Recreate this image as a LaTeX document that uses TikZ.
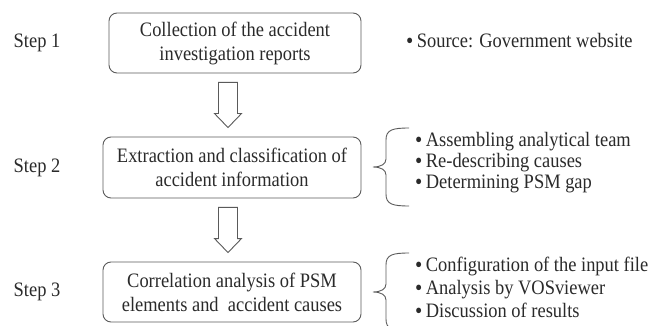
\documentclass[tikz,border=0pt]{standalone}
\usepackage{fontspec}
\setmainfont[FakeStretch=0.9]{Liberation Serif}
\usetikzlibrary{calc}
\definecolor{lineg}{HTML}{5A5A5A}
\definecolor{textg}{HTML}{2A2A2A}
\tikzset{
  stepbox/.style={draw=lineg, line width=0.9pt, rounded corners=8pt, align=center,
    inner sep=0pt, text=textg, font=\fontsize{20.5}{24}\selectfont},
  steplabel/.style={text=textg, font=\fontsize{20.5}{24}\selectfont, inner sep=0pt},
  item/.style={text=textg, font=\fontsize{20.5}{24}\selectfont, inner sep=0pt,
    anchor=west, text height=13pt, text depth=4pt},
  blockarrow/.style={draw=lineg, line width=0.9pt, fill=white, line join=miter},
  bracepath/.style={draw=lineg, line width=0.9pt}
}
\newcommand{\bul}{\raisebox{-1pt}{\smash{\fontsize{23}{23}\selectfont\textbullet}}\,}
\begin{document}
\begin{tikzpicture}[x=1pt,y=-1pt]
\useasboundingbox (0,0) rectangle (651,326);
\clip (0,0) rectangle (651,326);
% boxes
\node[stepbox, minimum width=252pt, minimum height=60pt] (b1) at (235,43)
  {Collection of the accident\\investigation reports};
\node[stepbox, minimum width=258pt, minimum height=61pt] (b2) at (232,167.5)
  {Extraction and classification of\\accident information};
\node[stepbox, minimum width=258pt, minimum height=60pt] (b3) at (232,292)
  {Correlation analysis of PSM\\elements and\ \ accident causes};
% step labels
\node[steplabel] (s1) at (37,43) {Step 1};
\node[steplabel] (s2) at (37,168) {Step 2};
\node[steplabel] (s3) at (37,292) {Step 3};
% block arrows
\foreach \from/\to in {b1/b2, b2/b3}{
  \draw[blockarrow] let \p1=(\from.south), \p2=(\to.north) in
    ({228pt-9.5pt},{\y1-9pt}) -- ({228pt+9.5pt},{\y1-9pt}) --
    ({228pt+9.5pt},{\y2+23pt}) -- ({228pt+13.5pt},{\y2+23pt}) --
    ({228pt},{\y2+9pt}) -- ({228pt-13.5pt},{\y2+23pt}) --
    ({228pt-9.5pt},{\y2+23pt}) -- cycle;
}
% step 1 item
\node[item] (i1) at (406,43) {\bul Source: Government website};
% step 2 brace and items
\coordinate (br2t) at (409,128);
\coordinate (br2b) at (409,206);
\coordinate (br2c) at (373,167);
\draw[bracepath] (br2t) .. controls (392,128) and (386,130) .. (386,140)
  -- (386,159) .. controls (386,164) and (381,167) .. (br2c)
  .. controls (381,167) and (386,170) .. (386,175)
  -- (386,194) .. controls (386,204) and (392,206) .. (br2b);
\node[item] (i21) at (415,142) {\bul Assembling analytical team};
\node[item] (i22) at (415,163) {\bul Re-describing causes};
\node[item] (i23) at (415,184) {\bul Determining PSM gap};
% step 3 brace and items
\coordinate (br3t) at (409,253);
\coordinate (br3b) at (409,331);
\coordinate (br3c) at (373,292);
\draw[bracepath] (br3t) .. controls (392,253) and (386,255) .. (386,265)
  -- (386,284) .. controls (386,289) and (381,292) .. (br3c)
  .. controls (381,292) and (386,295) .. (386,300)
  -- (386,319) .. controls (386,329) and (392,331) .. (br3b);
\node[item] (i31) at (415,267) {\bul Configuration of the input file};
\node[item] (i32) at (415,290) {\bul Analysis by VOSviewer};
\node[item] (i33) at (415,313) {\bul Discussion of results};
\end{tikzpicture}
\end{document}
